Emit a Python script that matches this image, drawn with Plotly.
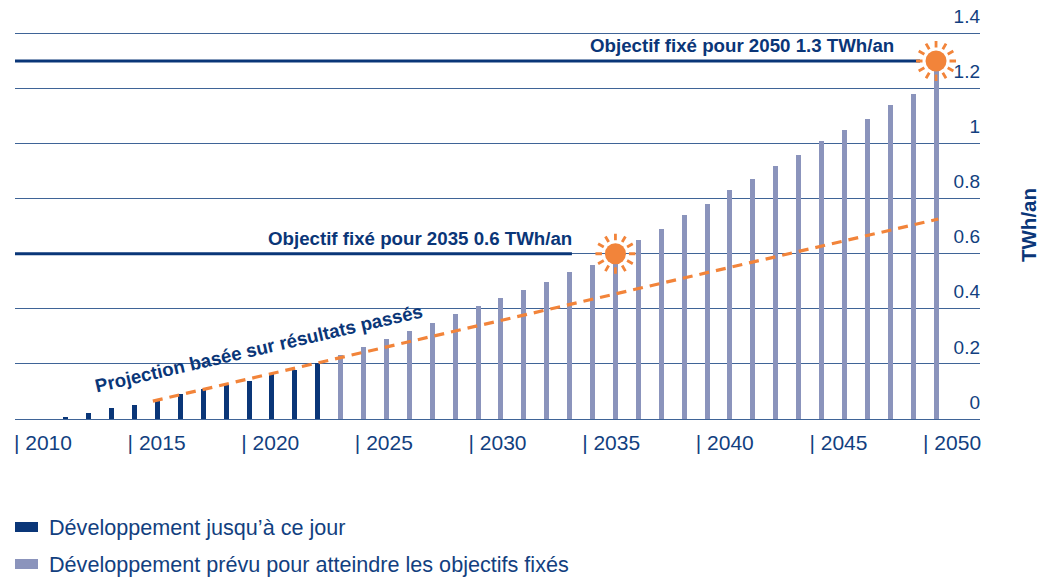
import math
import plotly.graph_objects as go

# ---- data ----
built_years = list(range(2012, 2024))
built_values = [0.0085, 0.023, 0.041, 0.052, 0.067, 0.092, 0.11, 0.125, 0.139, 0.162, 0.179, 0.202]
planned_years = list(range(2024, 2051))
planned_values = [0.231, 0.2625, 0.2916, 0.3207, 0.35, 0.382, 0.411, 0.44, 0.47, 0.499, 0.532, 0.561,
                  0.605, 0.651, 0.691, 0.742, 0.782, 0.833, 0.873, 0.92, 0.96, 1.011, 1.051, 1.09,
                  1.141, 1.181, 1.3]
projection_x = [2015.8, 2050.1]
projection_y = [0.065, 0.726]
target_2050_x = [2009.78, 2049.3]
target_2050_y = [1.3, 1.3]
target_2035_x = [2009.78, 2034.1]
target_2035_y = [0.6, 0.6]
sun_x = [2036, 2050]
sun_y = [0.6, 1.3]
y_ticks = [0, 0.2, 0.4, 0.6, 0.8, 1, 1.2, 1.4]
y_tick_labels = ["0", "0.2", "0.4", "0.6", "0.8", "1", "1.2", "1.4"]
x_ticks = list(range(2010, 2051, 5))
x_tick_labels = ["| %d" % y for y in x_ticks]
legend_labels = ["Développement jusqu’à ce jour", "Développement prévu pour atteindre les objectifs fixés"]

NAVY = "#0A3678"
TEXT = "#123F80"
LIGHT = "#8B94BC"
ORANGE = "#F2843A"
GRID = "#3F6497"
FONT = "Liberation Sans"

# page coordinates of the plot area (the page adds an 8px body margin)
PX0, PX1, PY0, PY1 = 15, 980, 8, 425
def px(x):
    return (x - PX0) / (PX1 - PX0)
def py(y):
    return (PY1 - y) / (PY1 - PY0)

fig = go.Figure()
fig.add_bar(x=built_years, y=built_values, width=0.218, marker=dict(color=NAVY, line_width=0),
            name=legend_labels[0], showlegend=False)
fig.add_bar(x=planned_years, y=planned_values, width=0.218, marker=dict(color=LIGHT, line_width=0),
            name=legend_labels[1], showlegend=False)
fig.add_scatter(x=target_2050_x, y=target_2050_y, mode="lines", line=dict(color=NAVY, width=3),
                showlegend=False, name="Objectif 2050")
fig.add_scatter(x=target_2035_x, y=target_2035_y, mode="lines", line=dict(color=NAVY, width=3),
                showlegend=False, name="Objectif 2035")
fig.add_scatter(x=projection_x, y=projection_y, mode="lines",
                line=dict(color=ORANGE, width=3.2, dash="10px,7px"), showlegend=False, name="Projection")
fig.add_scatter(x=sun_x, y=sun_y, mode="markers", marker=dict(color=ORANGE, size=21, line_width=0),
                showlegend=False, name="Objectifs")
# invisible traces that carry the label axes
fig.add_scatter(x=[2010, 2050], y=[None, None], xaxis="x2", yaxis="y", mode="markers", showlegend=False,
                hoverinfo="skip")
fig.add_scatter(x=[None, None], y=[0, 1.4], xaxis="x", yaxis="y2", mode="markers", showlegend=False,
                hoverinfo="skip")

shapes = []
rays = ""
for k in range(12):
    a = math.radians(30 * k)
    rays += "M%.2f,%.2fL%.2f,%.2f" % (13.5 * math.cos(a), 13.5 * math.sin(a), 20 * math.cos(a), 20 * math.sin(a))
for sx, sy in zip(sun_x, sun_y):
    shapes.append(dict(type="path", xref="x", yref="y", xsizemode="pixel", ysizemode="pixel",
                       xanchor=sx, yanchor=sy, path=rays, line=dict(color=ORANGE, width=2.8), layer="above"))
for row, color in zip((527, 564), (NAVY, LIGHT)):
    shapes.append(dict(type="rect", xref="paper", yref="paper", line_width=0, fillcolor=color,
                       x0=px(15), x1=px(38), y0=py(row + 5), y1=py(row - 5)))

BOLD = 18.7
annotations = [
    dict(x=2048.25, y=1.3, yshift=15, xref="x", yref="y", xanchor="right", yanchor="middle",
         text="<b>Objectif fixé pour 2050 1.3 TWh/an</b>", showarrow=False, font=dict(size=BOLD, color=NAVY)),
    dict(x=2034.2, y=0.6, yshift=15, xref="x", yref="y", xanchor="right", yanchor="middle",
         text="<b>Objectif fixé pour 2035 0.6 TWh/an</b>", showarrow=False, font=dict(size=BOLD, color=NAVY)),
    dict(x=2020.42, y=0.257, xref="x", yref="y", xanchor="center", yanchor="middle", textangle=-13,
         text="<b>Projection basée sur résultats passés</b>", showarrow=False, font=dict(size=BOLD, color=NAVY)),
    dict(x=px(1028), y=py(225), xref="paper", yref="paper", xanchor="center", yanchor="middle",
         textangle=-90, text="<b>TWh/an</b>", showarrow=False, font=dict(size=20.5, color=NAVY)),
]
for label, row in zip(legend_labels, (527, 564)):
    annotations.append(dict(x=px(47), y=py(row), xref="paper", yref="paper",
                            xanchor="left", yanchor="middle", text=label, showarrow=False,
                            font=dict(size=21.6, color=TEXT)))

fig.update_layout(
    width=1049, height=572, autosize=False,
    margin=dict(l=PX0 - 8, r=1049 - (PX1 - 8), t=PY0 - 8, b=572 - (PY1 - 8), pad=0, autoexpand=False),
    paper_bgcolor="white", plot_bgcolor="white",
    font=dict(family=FONT, color=TEXT, size=20),
    barmode="overlay", bargap=0, showlegend=False,
    shapes=shapes, annotations=annotations,
    xaxis=dict(range=[2009.78, 2051.92], showgrid=False, zeroline=False, showticklabels=False, ticks="",
               showline=False),
    yaxis=dict(range=[-0.0218, 1.4924], tickvals=y_ticks, showticklabels=False, ticks="",
               showgrid=True, gridcolor=GRID, gridwidth=1.2, zeroline=False, showline=False),
    xaxis2=dict(overlaying="x", side="bottom", anchor="y", range=[2008.77, 2051.23], tickvals=x_ticks,
                ticktext=x_tick_labels, ticks="", showgrid=False, zeroline=False, showline=False,
                tickangle=0, tickfont=dict(size=21, color=TEXT), ticklabelstandoff=3),
    yaxis2=dict(overlaying="y", side="left", anchor="free", position=1, range=[-0.0835, 1.4306], tickvals=y_ticks,
                ticktext=y_tick_labels, ticks="", showgrid=False, zeroline=False, showline=False, automargin=False,
                ticklabeloverflow="allow", ticklabelstandoff=0, tickfont=dict(size=19, color=TEXT)),
)
fig.write_html("out.html")
